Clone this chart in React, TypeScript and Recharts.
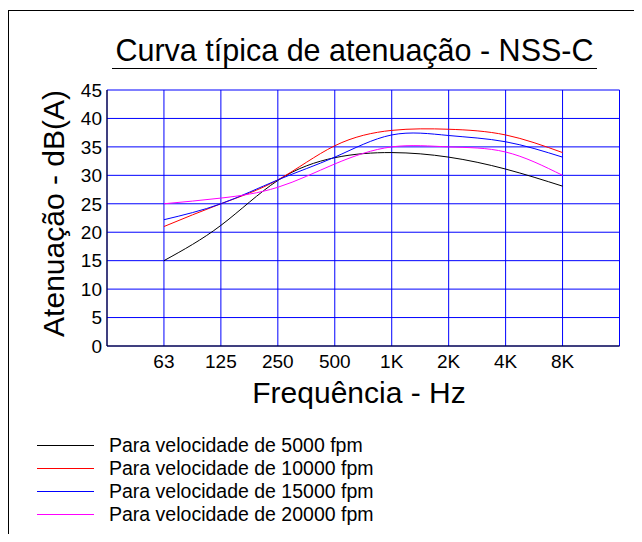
import { CartesianGrid, Label, Line, LineChart, XAxis, YAxis } from 'recharts'

// Frequências de banda de oitava (Hz)
const bands = ['63', '125', '250', '500', '1K', '2K', '4K', '8K']

// Atenuação dB(A) por velocidade
const v5000 = [15, 21.2, 29.1, 33.1, 34, 33.2, 31.1, 28.1]
const v10000 = [21, 25, 29.2, 35.2, 37.9, 38.1, 37.1, 34]
const v15000 = [22.2, 25, 29.2, 33.2, 37.1, 37, 35.9, 33.2]
const v20000 = [25, 26, 27.9, 32, 35, 35, 34.1, 30]

const yTicks = [0, 5, 10, 15, 20, 25, 30, 35, 40, 45]
const xTicks = [0, 1, 2, 3, 4, 5, 6, 7, 8, 9]

const series = [
    { key: 'v5000', name: 'Para velocidade de 5000 fpm', color: '#000000', values: v5000 },
    { key: 'v10000', name: 'Para velocidade de 10000 fpm', color: '#ff0000', values: v10000 },
    { key: 'v15000', name: 'Para velocidade de 15000 fpm', color: '#0000ff', values: v15000 },
    { key: 'v20000', name: 'Para velocidade de 20000 fpm', color: '#ff00ff', values: v20000 },
]

const data = bands.map((band, i) => {
    const row: Record<string, number | string> = { x: i + 1, band }
    series.forEach((s) => {
        row[s.key] = s.values[i]
    })
    return row
})

const FONT = '"Liberation Sans", Arial, sans-serif'

export default function App() {
    return (
        <div
            style={{
                position: 'relative',
                width: 642,
                height: 542,
                margin: -8,
                background: '#fff',
                fontFamily: FONT,
                overflow: 'hidden',
            }}
        >
            {/* moldura: só topo e esquerda */}
            <div
                style={{
                    position: 'absolute',
                    left: 8,
                    top: 10,
                    right: 0,
                    bottom: 0,
                    borderTop: '1px solid #000',
                    borderLeft: '1px solid #000',
                }}
            />
            <div
                style={{
                    position: 'absolute',
                    left: 112,
                    top: 33,
                    width: 485,
                    textAlign: 'center',
                    fontSize: 30.5,
                    lineHeight: '34px',
                    paddingBottom: 1,
                    borderBottom: '1px solid #000',
                    color: '#000',
                }}
            >
                Curva típica de atenuação - NSS-C
            </div>
            <LineChart
                width={642}
                height={542}
                data={data}
                margin={{ top: 90, right: 22.5, bottom: 166, left: 0 }}
                style={{ position: 'absolute', left: 0, top: 0 }}
            >
                <CartesianGrid stroke="#0000ff" strokeWidth={1} />
                <XAxis
                    dataKey="x"
                    type="number"
                    domain={[0, 9]}
                    ticks={xTicks}
                    interval={0}
                    height={30}
                    tickSize={0}
                    tickMargin={9}
                    tickLine={false}
                    axisLine={{ stroke: '#000' }}
                    tick={{ fontSize: 19, fill: '#000', fontFamily: FONT }}
                    tickFormatter={(v: number) => bands[v - 1] ?? ''}
                >
                    <Label
                        content={() => (
                            <text x={359} y={403} textAnchor="middle" fontSize={30} fill="#000" fontFamily={FONT}>
                                Frequência - Hz
                            </text>
                        )}
                    />
                </XAxis>
                <YAxis
                    type="number"
                    domain={[0, 45]}
                    ticks={yTicks}
                    interval={0}
                    width={107}
                    tickSize={0}
                    tickMargin={5}
                    tickLine={false}
                    axisLine={{ stroke: '#000' }}
                    tick={{ fontSize: 19, fill: '#000', fontFamily: FONT }}
                >
                    <Label
                        content={() => (
                            <text
                                x={64}
                                y={213.5}
                                transform="rotate(-90 64 213.5)"
                                textAnchor="middle"
                                fontSize={30}
                                fill="#000"
                                fontFamily={FONT}
                            >
                                Atenuação - dB(A)
                            </text>
                        )}
                    />
                </YAxis>
                {series.map((s) => (
                    <Line
                        key={s.key}
                        dataKey={s.key}
                        name={s.name}
                        type="natural"
                        stroke={s.color}
                        strokeWidth={1}
                        dot={false}
                        activeDot={false}
                        isAnimationActive={false}
                    />
                ))}
            </LineChart>
            {/* legenda */}
            <div style={{ position: 'absolute', left: 37, top: 434.3 }}>
                {series.map((s) => (
                    <div
                        key={s.key}
                        style={{ display: 'flex', alignItems: 'center', height: 22.8 }}
                    >
                        <div style={{ width: 57, height: 1, background: s.color }} />
                        <span
                            style={{
                                marginLeft: 15,
                                fontSize: 19.5,
                                lineHeight: '22.8px',
                                color: '#000',
                                whiteSpace: 'nowrap',
                            }}
                        >
                            {s.name}
                        </span>
                    </div>
                ))}
            </div>
        </div>
    )
}
